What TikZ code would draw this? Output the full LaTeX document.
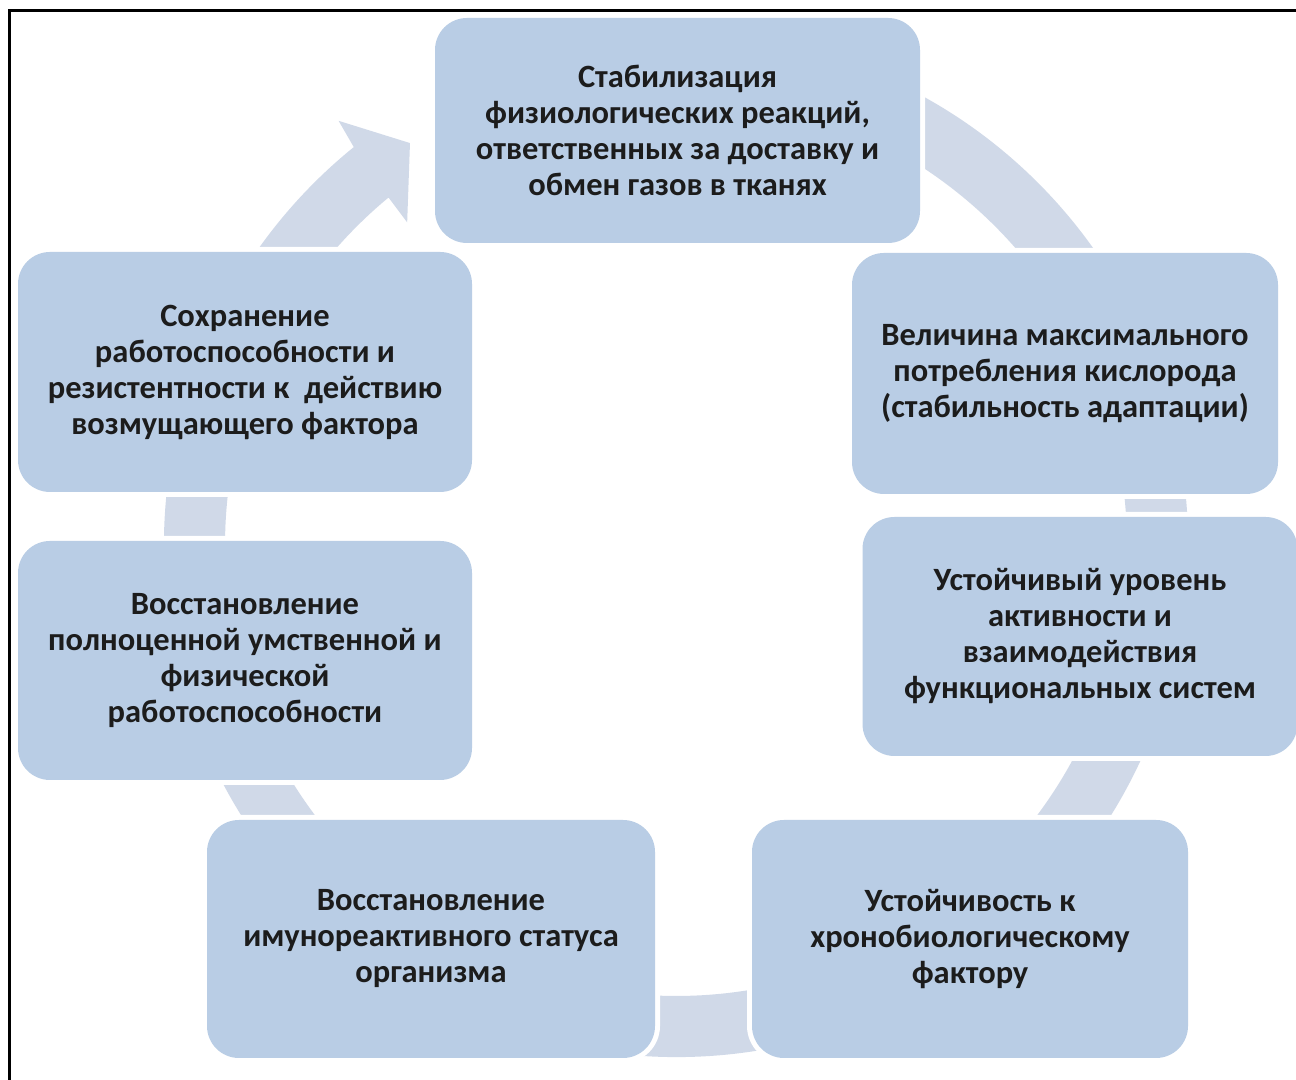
\documentclass[tikz,border=0pt]{standalone}
\usepackage{fontspec}
\setmainfont{Carlito}
\definecolor{boxblue}{HTML}{B9CDE5}
\definecolor{ringblue}{HTML}{D0D9E8}
\definecolor{txtgray}{HTML}{1C1C1C}
\tikzset{
  stage/.style={rectangle, rounded corners=0.32cm, fill=boxblue,
    preaction={draw=white, line width=0.1cm},
    align=center, inner sep=0pt, text=txtgray,
    font=\fontsize{9.25}{10.24}\selectfont\bfseries},
}
\begin{document}
\begin{tikzpicture}
  \useasboundingbox (0,0) rectangle (12.96,10.80);
  \fill[white] (0,0) rectangle (12.96,10.80);
  % frame
  \draw[line width=0.03cm] (0.095,0) -- (0.095,10.697) -- (12.96,10.697);
  % cycle arrow
  \begin{scope}[shift={(6.76,5.35)}]
    \fill[ringblue] (80:5.12) arc[start angle=80,end angle=-231,radius=5.12]
      -- (128.5:5.42) -- (123.5:4.82) -- (129.8:4.20) -- (129.6:4.51)
      arc[start angle=129.6,end angle=440,radius=4.51] -- cycle;
  \end{scope}
  % stages
  \node[stage, minimum width=4.85cm, minimum height=2.25cm] (stab) at (6.775,9.495)
    {Стабилизация\\физиологических реакций,\\ответственных за доставку и\\обмен газов в тканях};
  \node[stage, minimum width=4.26cm, minimum height=2.41cm] (vo2) at (10.65,7.065)
    {Величина максимального\\потребления кислорода\\(стабильность адаптации)};
  \node[stage, minimum width=4.35cm, minimum height=2.39cm] (level) at (10.80,4.435)
    {Устойчивый уровень\\активности и\\взаимодействия\\функциональных систем};
  \node[stage, minimum width=4.36cm, minimum height=2.38cm] (chrono) at (9.70,1.41)
    {Устойчивость к\\хронобиологическому\\фактору};
  \node[stage, minimum width=4.48cm, minimum height=2.38cm] (immune) at (4.31,1.41)
    {Восстановление\\имунореактивного статуса\\организма};
  \node[stage, minimum width=4.54cm, minimum height=2.39cm] (restore) at (2.45,4.195)
    {Восстановление\\полноценной умственной и\\физической\\работоспособности};
  \node[stage, minimum width=4.54cm, minimum height=2.40cm] (keep) at (2.45,7.08)
    {Сохранение\\работоспособности и\\резистентности к \ действию\\возмущающего фактора};
\end{tikzpicture}
\end{document}
